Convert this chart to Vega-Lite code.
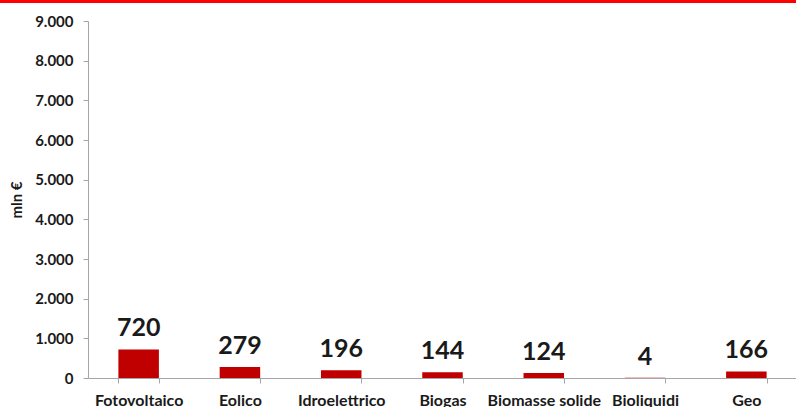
{
  "$schema": "https://vega.github.io/schema/vega-lite/v6.json",
  "padding": 0,
  "spacing": 11,
  "config": {
    "locale": {"number": {"decimal": ",", "thousands": ".", "grouping": [3], "currency": ["", " €"]}},
    "view": {"stroke": null},
    "font": "Lato"
  },
  "vconcat": [
    {
      "width": 796,
      "height": 3,
      "data": {"values": [{"band": "top"}]},
      "mark": {"type": "rect", "color": "#FF0000"},
      "encoding": {}
    },
    {
      "width": 796,
      "height": 357,
      "data": {
        "values": [
          {"fonte": "Fotovoltaico", "valore": 720},
          {"fonte": "Eolico", "valore": 279},
          {"fonte": "Idroelettrico", "valore": 196},
          {"fonte": "Biogas", "valore": 144},
          {"fonte": "Biomasse solide", "valore": 124},
          {"fonte": "Bioliquidi", "valore": 4},
          {"fonte": "Geo", "valore": 166}
        ]
      },
      "encoding": {
        "x": {
          "field": "fonte",
          "type": "nominal",
          "sort": null,
          "scale": {"range": [88, 797], "paddingInner": 0.6, "paddingOuter": 0.3},
          "axis": {
            "title": null,
            "labelAngle": 0,
            "tickBand": "extent",
            "tickSize": 5,
            "tickColor": "#A6A6A6",
            "domainColor": "#A6A6A6",
            "labelPadding": 9,
            "labelFontSize": 16,
            "labelColor": "#1a1a1a",
            "labelFontWeight": "bold",
            "grid": false
          }
        },
        "y": {
          "field": "valore",
          "type": "quantitative",
          "scale": {"domain": [0, 9000], "nice": false},
          "axis": {
            "offset": -88,
            "title": "mln €",
            "titleFontSize": 15,
            "titleFontWeight": "bold",
            "titleColor": "#1a1a1a",
            "titlePadding": 10,
            "values": [0, 1000, 2000, 3000, 4000, 5000, 6000, 7000, 8000, 9000],
            "format": ",d",
            "labelFontSize": 15,
            "labelFontWeight": "bold",
            "labelColor": "#1a1a1a",
            "labelPadding": 10,
            "tickSize": 5,
            "tickColor": "#A6A6A6",
            "domainColor": "#A6A6A6",
            "grid": false
          }
        }
      },
      "layer": [
        {"mark": {"type": "bar", "color": "#C00000"}},
        {
          "mark": {"type": "text", "baseline": "bottom", "dy": -8, "fontSize": 25, "fontWeight": "bold", "color": "#1a1a1a"},
          "encoding": {"text": {"field": "valore", "type": "quantitative", "format": ",d"}}
        }
      ]
    }
  ]
}
